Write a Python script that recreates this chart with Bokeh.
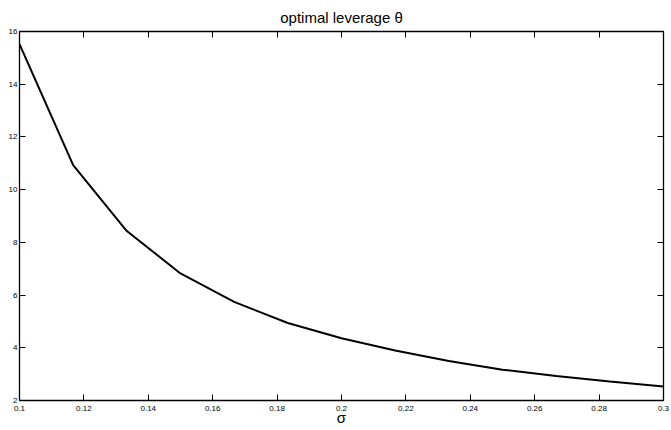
from bokeh.plotting import figure
from bokeh.models import LinearAxis, FixedTicker, Range1d, Label
from bokeh.embed import file_html
from bokeh.resources import INLINE

# data
sigma = [0.1, 0.11667, 0.13333, 0.15, 0.16667, 0.18333, 0.2,
         0.21667, 0.23333, 0.25, 0.26667, 0.28333, 0.3]
theta = [15.52, 10.93, 8.43, 6.82, 5.74, 4.94, 4.36,
         3.90, 3.50, 3.17, 2.93, 2.72, 2.53]

x_ticks = [0.1, 0.12, 0.14, 0.16, 0.18, 0.2, 0.22, 0.24, 0.26, 0.28, 0.3]
x_tick_labels = ["0.1", "0.12", "0.14", "0.16", "0.18", "0.2",
                 "0.22", "0.24", "0.26", "0.28", "0.3"]
y_ticks = [2, 4, 6, 8, 10, 12, 14, 16]

FONT = "Liberation Sans"

p = figure(width=671, height=430, output_backend="svg", toolbar_location=None,
           x_range=Range1d(0.1, 0.3), y_range=Range1d(2, 16),
           min_border_left=19, min_border_right=8, min_border_top=31,
           min_border_bottom=29)
p.title.text = "optimal leverage θ"
p.title.align = "center"
p.title.text_font = FONT
p.title.text_font_size = "15px"
p.title.text_font_style = "normal"
p.title.text_color = "#000000"
p.title.standoff = 11

p.xgrid.grid_line_color = None
p.ygrid.grid_line_color = None
p.outline_line_color = "#000000"
p.outline_line_width = 1
p.background_fill_color = "white"
p.border_fill_color = "white"

p.line(sigma, theta, line_color="black", line_width=2)

def style_axis(ax, labels=True):
    ax.axis_line_color = "#000000"
    ax.axis_line_width = 1.3
    ax.major_tick_line_color = "#000000"
    ax.major_tick_line_width = 1
    ax.major_tick_in = 6
    ax.major_tick_out = 0
    ax.minor_tick_line_color = None
    ax.major_label_text_font = FONT
    ax.major_label_text_font_size = "8px"
    ax.major_label_text_color = "#000000"
    ax.major_label_standoff = 2
    if not labels:
        ax.major_label_text_color = None
        ax.major_label_text_font_size = "0px"
        ax.major_label_standoff = 0

xa = p.xaxis[0]
xa.ticker = FixedTicker(ticks=x_ticks)
xa.major_label_overrides = {t: l for t, l in zip(x_ticks, x_tick_labels)}
style_axis(xa)
xa.major_label_standoff = 5

ya = p.yaxis[0]
ya.ticker = FixedTicker(ticks=y_ticks)
style_axis(ya)

top = LinearAxis(ticker=FixedTicker(ticks=x_ticks))
style_axis(top, labels=False)
p.add_layout(top, "above")

right = LinearAxis(ticker=FixedTicker(ticks=y_ticks))
style_axis(right, labels=False)
p.add_layout(right, "right")

xlabel = Label(x=0.2, y=5, x_units="data", y_units="screen", text="σ",
               text_align="center", text_baseline="bottom",
               text_font=FONT, text_font_size="15px", text_color="#000000")
p.add_layout(xlabel, "below")

open("out.html", "w").write(file_html(p, INLINE))
